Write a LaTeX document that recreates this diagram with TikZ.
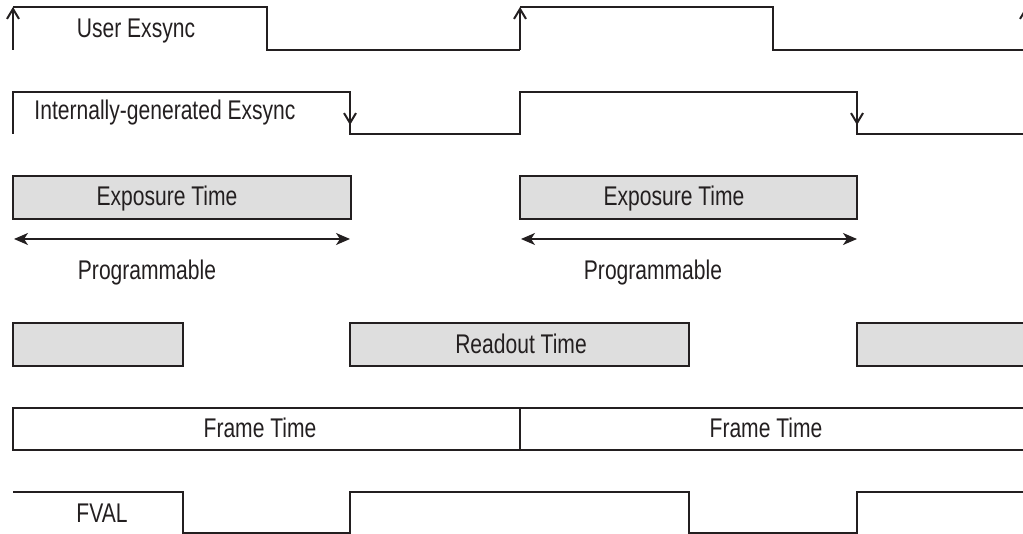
\documentclass[tikz,border=0pt]{standalone}
\usepackage{fontspec}
\setmainfont{Liberation Sans}[FakeStretch=0.78]
\usetikzlibrary{arrows.meta}
\definecolor{boxgray}{RGB}{222,222,222}
\definecolor{inkgray}{RGB}{35,31,32}

\begin{document}
\begin{tikzpicture}[x=1pt,y=-1pt,
    wave/.style={draw=inkgray, line width=1.8pt},
    edgetip/.style={wave, -{Straight Barb[length=10pt,width=12pt,line width=2pt]}},
    slotbox/.style={draw=inkgray, line width=1.6pt, fill=boxgray},
    spanarrow/.style={draw=inkgray, line width=1.6pt,
        {Stealth[length=14pt,width=12pt,inset=4pt]}-{Stealth[length=14pt,width=12pt,inset=4pt]}},
    lbl/.style={anchor=base, inner sep=0pt, text=inkgray, font=\fontsize{27}{32}\selectfont}]
    \useasboundingbox (0,0) rectangle (1023,534);

    % user exsync
    \draw[wave] (13,7) -- (267,7) -- (267,50) -- (520,50);
    \draw[wave] (520,7) -- (773,7) -- (773,50) -- (1026,50);
    \draw[edgetip] (13,50) -- (13,7);
    \draw[edgetip] (520,50) -- (520,7);
    \draw[edgetip] (1026,50) -- (1026,7);
    \node[lbl] (usersync) at (136,38) {User Exsync};

    % internally generated exsync
    \draw[wave] (13,134) -- (13,92) -- (350,92) -- (350,134) -- (520,134) -- (520,92)
        -- (857,92) -- (857,134) -- (1026,134);
    \draw[edgetip] (350,92) -- (350,125);
    \draw[edgetip] (857,92) -- (857,125);
    \node[lbl] (intsync) at (165,120) {Internally-generated Exsync};

    % exposure
    \draw[slotbox] (13,176) rectangle (351,219);
    \draw[slotbox] (520,176) rectangle (857,219);
    \node[lbl] (expo1) at (167,206) {Exposure Time};
    \node[lbl] (expo2) at (674,206) {Exposure Time};
    \draw[spanarrow] (14,239) -- (350,239);
    \draw[spanarrow] (521,239) -- (857,239);
    \node[lbl] (prog1) at (147,280) {Programmable};
    \node[lbl] (prog2) at (653,280) {Programmable};

    % readout
    \draw[slotbox] (13,323) rectangle (183,366);
    \draw[slotbox] (350,323) rectangle (689,366);
    \draw[slotbox] (857,323) rectangle (1030,366);
    \node[lbl] (readout) at (521,354) {Readout Time};

    % frame
    \draw[wave, line width=1.6pt] (13,408) rectangle (520,450);
    \draw[wave, line width=1.6pt] (520,408) rectangle (1030,450);
    \node[lbl] (frame1) at (260,438) {Frame Time};
    \node[lbl] (frame2) at (766,438) {Frame Time};

    % fval
    \draw[wave] (13,492) -- (183,492) -- (183,533) -- (350,533) -- (350,492) -- (689,492)
        -- (689,533) -- (857,533) -- (857,492) -- (1026,492);
    \node[lbl] (fval) at (102,522) {FVAL};
\end{tikzpicture}
\end{document}
